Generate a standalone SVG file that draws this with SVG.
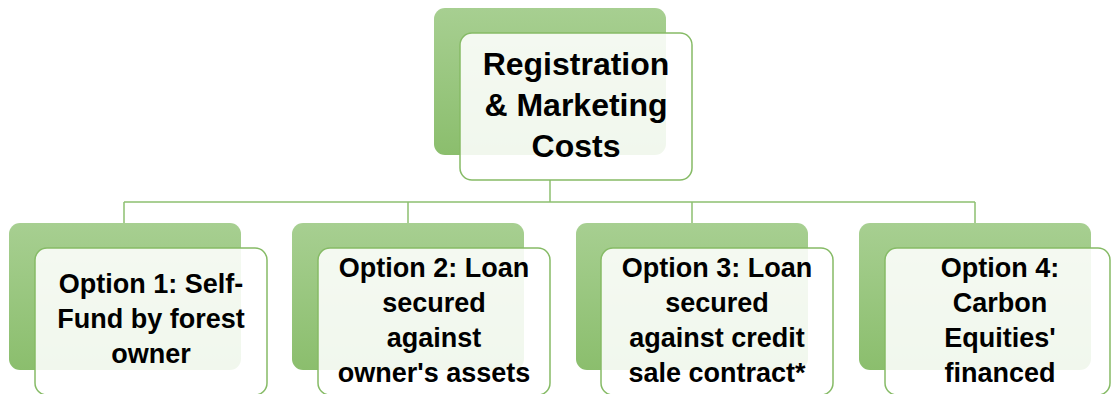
<svg xmlns="http://www.w3.org/2000/svg" width="1111" height="394" viewBox="0 0 1111 394">
<defs>
<linearGradient id="g" x1="0" y1="0" x2="0" y2="1">
<stop offset="0" stop-color="#A7CF91"/>
<stop offset="1" stop-color="#8BBE6D"/>
</linearGradient>
<style>
.back{fill:url(#g);}
.front{fill:#FFFFFF;fill-opacity:0.88;stroke:#86BB66;stroke-width:1.5;}
.t{font-family:"Liberation Sans",Arial,sans-serif;font-weight:bold;fill:#000;text-anchor:middle;}
.conn{fill:none;stroke:#8DC070;stroke-width:1.5;}
</style>
</defs>
<rect width="1111" height="394" fill="#FFFFFF"/>
<g id="connectors">
<path class="conn" d="M550,180 V202 M124,202 H975 M124,202 V223 M408,202 V223 M692,202 V223 M975,202 V223"/>
</g>
<g id="top">
<rect class="back" x="434" y="8" width="232" height="147" rx="11"/>
<rect class="front" x="460" y="33" width="232" height="147" rx="12"/>
<text class="t" font-size="32" x="576" y="75">Registration</text>
<text class="t" font-size="32" x="576" y="116">&amp; Marketing</text>
<text class="t" font-size="32" x="576" y="157">Costs</text>
</g>
<g id="opt1">
<rect class="back" x="9" y="223" width="232" height="147" rx="11"/>
<rect class="front" x="35" y="248" width="232" height="147" rx="12"/>
<text class="t" font-size="27" x="151" y="293">Option 1: Self-</text>
<text class="t" font-size="27" x="151" y="328">Fund by forest</text>
<text class="t" font-size="27" x="151" y="363">owner</text>
</g>
<g id="opt2">
<rect class="back" x="292" y="223" width="232" height="147" rx="11"/>
<rect class="front" x="318" y="248" width="232" height="147" rx="12"/>
<text class="t" font-size="27" x="434" y="277">Option 2: Loan</text>
<text class="t" font-size="27" x="434" y="312">secured</text>
<text class="t" font-size="27" x="434" y="347">against</text>
<text class="t" font-size="27" x="434" y="382">owner's assets</text>
</g>
<g id="opt3">
<rect class="back" x="576" y="223" width="232" height="147" rx="11"/>
<rect class="front" x="601" y="248" width="232" height="147" rx="12"/>
<text class="t" font-size="27" x="717" y="277">Option 3: Loan</text>
<text class="t" font-size="27" x="717" y="312">secured</text>
<text class="t" font-size="27" x="717" y="347">against credit</text>
<text class="t" font-size="27" x="717" y="382">sale contract*</text>
</g>
<g id="opt4">
<rect class="back" x="859" y="223" width="232" height="147" rx="11"/>
<rect class="front" x="885" y="248" width="225" height="147" rx="12"/>
<text class="t" font-size="27" x="1000" y="277">Option 4:</text>
<text class="t" font-size="27" x="1000" y="312">Carbon</text>
<text class="t" font-size="27" x="1000" y="347">Equities'</text>
<text class="t" font-size="27" x="1000" y="382">financed</text>
</g>
</svg>
